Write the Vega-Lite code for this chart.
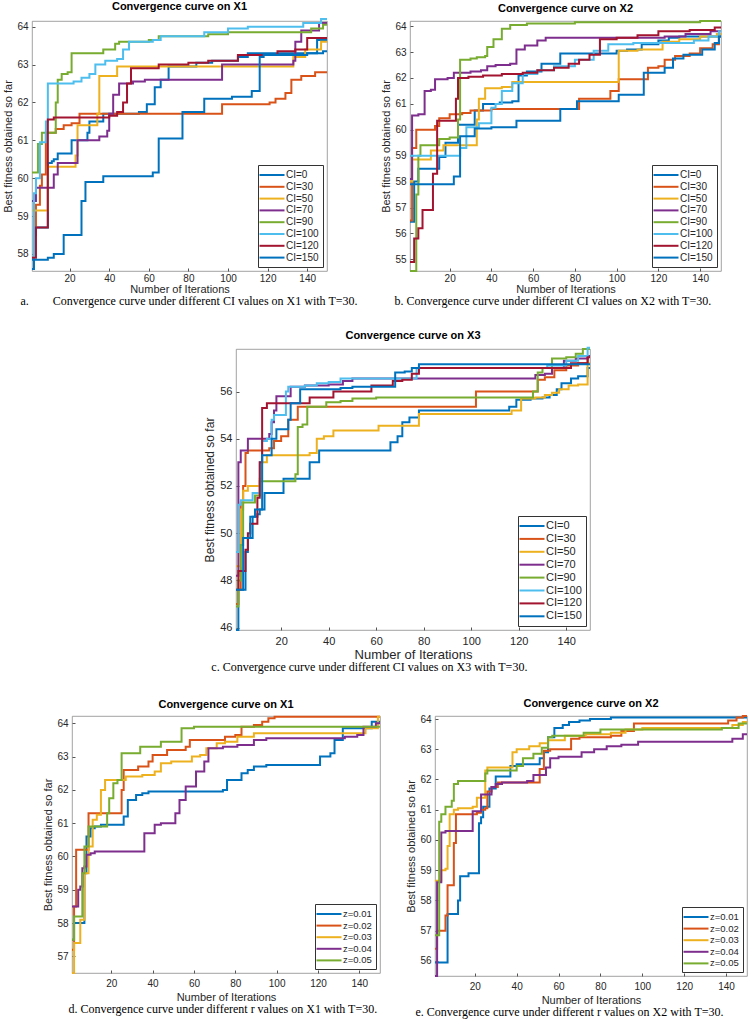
{
"$schema": "https://vega.github.io/schema/vega-lite/v6.json",
"background": "white",
"padding": {"left": 2, "top": 0, "right": 0, "bottom": 0},
"config": {
  "view": {"stroke": "#8c8c8c", "strokeWidth": 0.8},
  "axis": {"grid": false, "domain": false, "tickSize": -3, "tickColor": "#555", "labelFont": "Liberation Sans", "labelFontSize": 10, "labelColor": "#262626", "labelPadding": 8, "titleFont": "Liberation Sans", "titleFontSize": 11, "titleFontWeight": "normal", "titleColor": "#262626", "titlePadding": 3},
  "axisY": {"labelPadding": 7},
  "title": {"font": "Liberation Sans", "fontSize": 11, "fontWeight": "bold", "color": "#000", "offset": 3, "frame": "group"},
  "legend": {"orient": "bottom-right", "offset": 4, "fillColor": "white", "strokeColor": "#333", "padding": 4, "symbolType": "M-2.5,0H2.5", "symbolStrokeWidth": 2.5, "symbolSize": 100, "symbolOffset": 4, "labelFont": "Liberation Sans", "labelFontSize": 10, "labelColor": "#262626", "rowPadding": 0.8, "labelOffset": 8},
  "line": {"interpolate": "step-after", "strokeWidth": 2, "clip": true}
},
"datasets": {
"a": [
{"s":"CI=0","x":1,"y":57.6},{"s":"CI=0","x":2,"y":58.7},{"s":"CI=0","x":9,"y":60.4},{"s":"CI=0","x":11,"y":60.45},{"s":"CI=0","x":12,"y":60.5},{"s":"CI=0","x":14,"y":60.65},{"s":"CI=0","x":21,"y":61.0},{"s":"CI=0","x":29,"y":61.2},{"s":"CI=0","x":30,"y":61.5},{"s":"CI=0","x":37,"y":61.7},{"s":"CI=0","x":55,"y":61.75},{"s":"CI=0","x":59,"y":61.95},{"s":"CI=0","x":63,"y":62.4},{"s":"CI=0","x":66,"y":62.6},{"s":"CI=0","x":70,"y":62.95},{"s":"CI=0","x":84,"y":63.05},{"s":"CI=0","x":92,"y":63.1},{"s":"CI=0","x":105,"y":63.2},{"s":"CI=0","x":110,"y":63.3},{"s":"CI=0","x":145,"y":63.65},{"s":"CI=0","x":150,"y":63.65},
{"s":"CI=30","x":1,"y":57.9},{"s":"CI=30","x":2,"y":58.5},{"s":"CI=30","x":3,"y":59.3},{"s":"CI=30","x":5,"y":59.8},{"s":"CI=30","x":6,"y":60.1},{"s":"CI=30","x":8,"y":61.2},{"s":"CI=30","x":13,"y":61.3},{"s":"CI=30","x":17,"y":61.4},{"s":"CI=30","x":21,"y":61.45},{"s":"CI=30","x":25,"y":61.7},{"s":"CI=30","x":97,"y":61.95},{"s":"CI=30","x":121,"y":62.0},{"s":"CI=30","x":124,"y":62.1},{"s":"CI=30","x":129,"y":62.25},{"s":"CI=30","x":132,"y":62.6},{"s":"CI=30","x":137,"y":62.7},{"s":"CI=30","x":144,"y":62.8},{"s":"CI=30","x":150,"y":62.8},
{"s":"CI=50","x":1,"y":59.15},{"s":"CI=50","x":9,"y":60.3},{"s":"CI=50","x":23,"y":60.6},{"s":"CI=50","x":24,"y":61.4},{"s":"CI=50","x":34,"y":61.7},{"s":"CI=50","x":35,"y":62.7},{"s":"CI=50","x":44,"y":62.95},{"s":"CI=50","x":133,"y":63.2},{"s":"CI=50","x":139,"y":63.4},{"s":"CI=50","x":147,"y":63.6},{"s":"CI=50","x":150,"y":63.6},
{"s":"CI=70","x":1,"y":59.4},{"s":"CI=70","x":3,"y":59.75},{"s":"CI=70","x":12,"y":60.1},{"s":"CI=70","x":14,"y":60.4},{"s":"CI=70","x":24,"y":61.0},{"s":"CI=70","x":35,"y":61.1},{"s":"CI=70","x":39,"y":61.25},{"s":"CI=70","x":40,"y":61.7},{"s":"CI=70","x":42,"y":62.2},{"s":"CI=70","x":45,"y":62.5},{"s":"CI=70","x":52,"y":62.55},{"s":"CI=70","x":58,"y":62.6},{"s":"CI=70","x":97,"y":63.0},{"s":"CI=70","x":133,"y":63.1},{"s":"CI=70","x":134,"y":63.6},{"s":"CI=70","x":137,"y":63.9},{"s":"CI=70","x":146,"y":64.1},{"s":"CI=70","x":150,"y":64.1},
{"s":"CI=90","x":1,"y":60.15},{"s":"CI=90","x":4,"y":60.9},{"s":"CI=90","x":6,"y":61.2},{"s":"CI=90","x":13,"y":62.0},{"s":"CI=90","x":14,"y":62.6},{"s":"CI=90","x":16,"y":62.75},{"s":"CI=90","x":19,"y":62.8},{"s":"CI=90","x":21,"y":63.3},{"s":"CI=90","x":37,"y":63.4},{"s":"CI=90","x":43,"y":63.55},{"s":"CI=90","x":45,"y":63.6},{"s":"CI=90","x":60,"y":63.65},{"s":"CI=90","x":65,"y":63.75},{"s":"CI=90","x":90,"y":63.8},{"s":"CI=90","x":100,"y":63.85},{"s":"CI=90","x":142,"y":63.95},{"s":"CI=90","x":148,"y":64.05},{"s":"CI=90","x":150,"y":64.05},
{"s":"CI=100","x":1,"y":57.9},{"s":"CI=100","x":2,"y":59.6},{"s":"CI=100","x":3,"y":60.0},{"s":"CI=100","x":5,"y":60.95},{"s":"CI=100","x":8,"y":61.5},{"s":"CI=100","x":9,"y":62.5},{"s":"CI=100","x":22,"y":62.55},{"s":"CI=100","x":26,"y":62.65},{"s":"CI=100","x":30,"y":62.75},{"s":"CI=100","x":33,"y":63.0},{"s":"CI=100","x":38,"y":63.1},{"s":"CI=100","x":44,"y":63.15},{"s":"CI=100","x":47,"y":63.4},{"s":"CI=100","x":50,"y":63.6},{"s":"CI=100","x":62,"y":63.65},{"s":"CI=100","x":66,"y":63.75},{"s":"CI=100","x":88,"y":63.85},{"s":"CI=100","x":100,"y":63.95},{"s":"CI=100","x":110,"y":64.0},{"s":"CI=100","x":138,"y":64.1},{"s":"CI=100","x":147,"y":64.2},{"s":"CI=100","x":150,"y":64.2},
{"s":"CI=120","x":1,"y":57.9},{"s":"CI=120","x":3,"y":58.7},{"s":"CI=120","x":9,"y":61.55},{"s":"CI=120","x":12,"y":61.6},{"s":"CI=120","x":40,"y":61.65},{"s":"CI=120","x":44,"y":61.75},{"s":"CI=120","x":47,"y":62.0},{"s":"CI=120","x":49,"y":62.5},{"s":"CI=120","x":51,"y":62.9},{"s":"CI=120","x":65,"y":63.0},{"s":"CI=120","x":80,"y":63.05},{"s":"CI=120","x":90,"y":63.1},{"s":"CI=120","x":105,"y":63.25},{"s":"CI=120","x":125,"y":63.35},{"s":"CI=120","x":134,"y":63.4},{"s":"CI=120","x":140,"y":63.7},{"s":"CI=120","x":150,"y":63.7},
{"s":"CI=150","x":1,"y":57.85},{"s":"CI=150","x":9,"y":57.9},{"s":"CI=150","x":12,"y":58.0},{"s":"CI=150","x":17,"y":58.5},{"s":"CI=150","x":26,"y":59.4},{"s":"CI=150","x":28,"y":59.9},{"s":"CI=150","x":37,"y":60.05},{"s":"CI=150","x":62,"y":60.15},{"s":"CI=150","x":65,"y":61.05},{"s":"CI=150","x":77,"y":61.75},{"s":"CI=150","x":88,"y":62.1},{"s":"CI=150","x":102,"y":62.15},{"s":"CI=150","x":112,"y":62.3},{"s":"CI=150","x":116,"y":63.2},{"s":"CI=150","x":118,"y":63.25},{"s":"CI=150","x":140,"y":63.3},{"s":"CI=150","x":148,"y":63.35},{"s":"CI=150","x":150,"y":63.35}
],
"b": [
{"s":"CI=0","x":1,"y":56.45},{"s":"CI=0","x":3,"y":58.0},{"s":"CI=0","x":5,"y":58.5},{"s":"CI=0","x":15,"y":58.95},{"s":"CI=0","x":18,"y":59.5},{"s":"CI=0","x":24,"y":60.2},{"s":"CI=0","x":32,"y":60.75},{"s":"CI=0","x":36,"y":61.0},{"s":"CI=0","x":44,"y":61.05},{"s":"CI=0","x":50,"y":61.1},{"s":"CI=0","x":53,"y":62.1},{"s":"CI=0","x":57,"y":62.25},{"s":"CI=0","x":64,"y":62.55},{"s":"CI=0","x":73,"y":62.95},{"s":"CI=0","x":100,"y":63.05},{"s":"CI=0","x":105,"y":63.1},{"s":"CI=0","x":112,"y":63.3},{"s":"CI=0","x":120,"y":63.45},{"s":"CI=0","x":125,"y":63.55},{"s":"CI=0","x":130,"y":63.6},{"s":"CI=0","x":150,"y":63.6},
{"s":"CI=30","x":1,"y":56.5},{"s":"CI=30","x":2,"y":59.3},{"s":"CI=30","x":4,"y":60.0},{"s":"CI=30","x":13,"y":60.15},{"s":"CI=30","x":15,"y":60.45},{"s":"CI=30","x":20,"y":60.6},{"s":"CI=30","x":26,"y":60.65},{"s":"CI=30","x":30,"y":60.75},{"s":"CI=30","x":40,"y":60.8},{"s":"CI=30","x":82,"y":61.2},{"s":"CI=30","x":97,"y":61.5},{"s":"CI=30","x":101,"y":61.95},{"s":"CI=30","x":115,"y":62.4},{"s":"CI=30","x":120,"y":62.45},{"s":"CI=30","x":123,"y":62.7},{"s":"CI=30","x":128,"y":62.85},{"s":"CI=30","x":135,"y":62.95},{"s":"CI=30","x":140,"y":63.15},{"s":"CI=30","x":146,"y":63.3},{"s":"CI=30","x":149,"y":63.6},{"s":"CI=30","x":150,"y":63.6},
{"s":"CI=50","x":1,"y":58.0},{"s":"CI=50","x":2,"y":58.85},{"s":"CI=50","x":11,"y":59.2},{"s":"CI=50","x":17,"y":59.4},{"s":"CI=50","x":33,"y":60.4},{"s":"CI=50","x":34,"y":61.2},{"s":"CI=50","x":37,"y":61.6},{"s":"CI=50","x":45,"y":61.65},{"s":"CI=50","x":50,"y":61.85},{"s":"CI=50","x":101,"y":63.05},{"s":"CI=50","x":110,"y":63.1},{"s":"CI=50","x":122,"y":63.4},{"s":"CI=50","x":130,"y":63.5},{"s":"CI=50","x":140,"y":63.6},{"s":"CI=50","x":148,"y":63.7},{"s":"CI=50","x":150,"y":63.7},
{"s":"CI=70","x":1,"y":58.1},{"s":"CI=70","x":2,"y":60.55},{"s":"CI=70","x":5,"y":60.6},{"s":"CI=70","x":8,"y":61.5},{"s":"CI=70","x":11,"y":61.55},{"s":"CI=70","x":13,"y":61.95},{"s":"CI=70","x":19,"y":62.0},{"s":"CI=70","x":22,"y":62.2},{"s":"CI=70","x":30,"y":62.25},{"s":"CI=70","x":35,"y":62.3},{"s":"CI=70","x":38,"y":62.45},{"s":"CI=70","x":42,"y":62.5},{"s":"CI=70","x":49,"y":62.55},{"s":"CI=70","x":52,"y":63.1},{"s":"CI=70","x":56,"y":63.25},{"s":"CI=70","x":62,"y":63.45},{"s":"CI=70","x":66,"y":63.55},{"s":"CI=70","x":123,"y":63.6},{"s":"CI=70","x":133,"y":63.7},{"s":"CI=70","x":145,"y":63.8},{"s":"CI=70","x":150,"y":63.8},
{"s":"CI=90","x":1,"y":54.55},{"s":"CI=90","x":4,"y":57.5},{"s":"CI=90","x":5,"y":59.0},{"s":"CI=90","x":6,"y":59.4},{"s":"CI=90","x":15,"y":59.65},{"s":"CI=90","x":20,"y":59.7},{"s":"CI=90","x":24,"y":60.4},{"s":"CI=90","x":25,"y":62.7},{"s":"CI=90","x":30,"y":62.75},{"s":"CI=90","x":33,"y":62.8},{"s":"CI=90","x":37,"y":62.85},{"s":"CI=90","x":38,"y":63.2},{"s":"CI=90","x":41,"y":63.5},{"s":"CI=90","x":45,"y":63.9},{"s":"CI=90","x":49,"y":64.05},{"s":"CI=90","x":57,"y":64.1},{"s":"CI=90","x":80,"y":64.15},{"s":"CI=90","x":140,"y":64.2},{"s":"CI=90","x":150,"y":64.2},
{"s":"CI=100","x":1,"y":59.0},{"s":"CI=100","x":25,"y":59.3},{"s":"CI=100","x":28,"y":60.1},{"s":"CI=100","x":34,"y":60.25},{"s":"CI=100","x":40,"y":60.85},{"s":"CI=100","x":42,"y":61.0},{"s":"CI=100","x":45,"y":61.5},{"s":"CI=100","x":50,"y":61.8},{"s":"CI=100","x":55,"y":62.15},{"s":"CI=100","x":62,"y":62.3},{"s":"CI=100","x":70,"y":62.45},{"s":"CI=100","x":80,"y":62.7},{"s":"CI=100","x":89,"y":63.05},{"s":"CI=100","x":96,"y":63.3},{"s":"CI=100","x":108,"y":63.35},{"s":"CI=100","x":137,"y":63.45},{"s":"CI=100","x":144,"y":63.6},{"s":"CI=100","x":149,"y":63.8},{"s":"CI=100","x":150,"y":63.8},
{"s":"CI=120","x":1,"y":54.9},{"s":"CI=120","x":3,"y":55.8},{"s":"CI=120","x":5,"y":56.2},{"s":"CI=120","x":7,"y":56.9},{"s":"CI=120","x":12,"y":58.3},{"s":"CI=120","x":14,"y":60.35},{"s":"CI=120","x":23,"y":61.2},{"s":"CI=120","x":24,"y":62.0},{"s":"CI=120","x":29,"y":62.05},{"s":"CI=120","x":36,"y":62.1},{"s":"CI=120","x":45,"y":62.15},{"s":"CI=120","x":55,"y":62.2},{"s":"CI=120","x":62,"y":62.3},{"s":"CI=120","x":70,"y":62.4},{"s":"CI=120","x":77,"y":62.55},{"s":"CI=120","x":82,"y":62.7},{"s":"CI=120","x":87,"y":62.9},{"s":"CI=120","x":92,"y":63.5},{"s":"CI=120","x":100,"y":63.55},{"s":"CI=120","x":110,"y":63.65},{"s":"CI=120","x":120,"y":63.8},{"s":"CI=120","x":135,"y":63.85},{"s":"CI=120","x":147,"y":63.95},{"s":"CI=120","x":150,"y":63.95},
{"s":"CI=150","x":1,"y":57.9},{"s":"CI=150","x":22,"y":58.2},{"s":"CI=150","x":25,"y":59.75},{"s":"CI=150","x":32,"y":60.05},{"s":"CI=150","x":40,"y":60.1},{"s":"CI=150","x":52,"y":60.35},{"s":"CI=150","x":73,"y":60.8},{"s":"CI=150","x":81,"y":61.1},{"s":"CI=150","x":101,"y":61.35},{"s":"CI=150","x":113,"y":62.2},{"s":"CI=150","x":123,"y":62.4},{"s":"CI=150","x":127,"y":62.75},{"s":"CI=150","x":132,"y":62.9},{"s":"CI=150","x":141,"y":63.1},{"s":"CI=150","x":147,"y":63.35},{"s":"CI=150","x":149,"y":63.6},{"s":"CI=150","x":150,"y":63.6}
],
"c": [
{"s":"CI=0","x":1,"y":45.9},{"s":"CI=0","x":2,"y":47.6},{"s":"CI=0","x":5,"y":49.2},{"s":"CI=0","x":6,"y":49.8},{"s":"CI=0","x":8,"y":50.7},{"s":"CI=0","x":10,"y":50.8},{"s":"CI=0","x":11,"y":51.0},{"s":"CI=0","x":13,"y":51.7},{"s":"CI=0","x":21,"y":52.3},{"s":"CI=0","x":32,"y":53.0},{"s":"CI=0","x":36,"y":53.5},{"s":"CI=0","x":66,"y":53.85},{"s":"CI=0","x":69,"y":54.1},{"s":"CI=0","x":71,"y":54.7},{"s":"CI=0","x":74,"y":54.9},{"s":"CI=0","x":78,"y":55.2},{"s":"CI=0","x":116,"y":55.35},{"s":"CI=0","x":119,"y":55.65},{"s":"CI=0","x":125,"y":55.7},{"s":"CI=0","x":130,"y":55.75},{"s":"CI=0","x":133,"y":55.85},{"s":"CI=0","x":136,"y":56.1},{"s":"CI=0","x":138,"y":56.35},{"s":"CI=0","x":142,"y":56.55},{"s":"CI=0","x":145,"y":56.65},{"s":"CI=0","x":149,"y":57.0},{"s":"CI=0","x":150,"y":57.0},
{"s":"CI=30","x":1,"y":47.0},{"s":"CI=30","x":2,"y":47.6},{"s":"CI=30","x":3,"y":51.3},{"s":"CI=30","x":4,"y":52.0},{"s":"CI=30","x":5,"y":53.4},{"s":"CI=30","x":6,"y":53.5},{"s":"CI=30","x":15,"y":53.6},{"s":"CI=30","x":17,"y":53.9},{"s":"CI=30","x":20,"y":54.1},{"s":"CI=30","x":23,"y":54.8},{"s":"CI=30","x":27,"y":55.35},{"s":"CI=30","x":102,"y":56.0},{"s":"CI=30","x":128,"y":56.5},{"s":"CI=30","x":131,"y":56.6},{"s":"CI=30","x":135,"y":56.9},{"s":"CI=30","x":140,"y":57.1},{"s":"CI=30","x":145,"y":57.2},{"s":"CI=30","x":149,"y":57.5},{"s":"CI=30","x":150,"y":57.5},
{"s":"CI=50","x":1,"y":48.6},{"s":"CI=50","x":3,"y":51.0},{"s":"CI=50","x":4,"y":51.8},{"s":"CI=50","x":6,"y":52.0},{"s":"CI=50","x":11,"y":52.3},{"s":"CI=50","x":12,"y":53.0},{"s":"CI=50","x":14,"y":53.3},{"s":"CI=50","x":32,"y":53.4},{"s":"CI=50","x":35,"y":54.0},{"s":"CI=50","x":38,"y":54.1},{"s":"CI=50","x":42,"y":54.35},{"s":"CI=50","x":61,"y":54.55},{"s":"CI=50","x":78,"y":55.05},{"s":"CI=50","x":117,"y":55.2},{"s":"CI=50","x":121,"y":55.7},{"s":"CI=50","x":127,"y":55.75},{"s":"CI=50","x":131,"y":55.85},{"s":"CI=50","x":134,"y":55.95},{"s":"CI=50","x":137,"y":56.1},{"s":"CI=50","x":141,"y":56.25},{"s":"CI=50","x":145,"y":56.3},{"s":"CI=50","x":149,"y":57.2},{"s":"CI=50","x":150,"y":57.2},
{"s":"CI=70","x":1,"y":48.2},{"s":"CI=70","x":2,"y":53.0},{"s":"CI=70","x":3,"y":53.5},{"s":"CI=70","x":6,"y":54.0},{"s":"CI=70","x":15,"y":54.2},{"s":"CI=70","x":16,"y":54.7},{"s":"CI=70","x":17,"y":55.2},{"s":"CI=70","x":18,"y":55.8},{"s":"CI=70","x":24,"y":56.2},{"s":"CI=70","x":30,"y":56.25},{"s":"CI=70","x":40,"y":56.3},{"s":"CI=70","x":46,"y":56.45},{"s":"CI=70","x":50,"y":56.55},{"s":"CI=70","x":127,"y":56.7},{"s":"CI=70","x":131,"y":56.75},{"s":"CI=70","x":134,"y":57.0},{"s":"CI=70","x":139,"y":57.3},{"s":"CI=70","x":144,"y":57.4},{"s":"CI=70","x":149,"y":57.5},{"s":"CI=70","x":150,"y":57.5},
{"s":"CI=90","x":1,"y":46.9},{"s":"CI=90","x":2,"y":48.0},{"s":"CI=90","x":3,"y":49.5},{"s":"CI=90","x":4,"y":51.3},{"s":"CI=90","x":9,"y":51.6},{"s":"CI=90","x":11,"y":52.2},{"s":"CI=90","x":26,"y":52.5},{"s":"CI=90","x":27,"y":54.5},{"s":"CI=90","x":29,"y":54.6},{"s":"CI=90","x":31,"y":55.35},{"s":"CI=90","x":39,"y":55.55},{"s":"CI=90","x":45,"y":55.6},{"s":"CI=90","x":50,"y":55.7},{"s":"CI=90","x":60,"y":55.75},{"s":"CI=90","x":126,"y":56.0},{"s":"CI=90","x":128,"y":56.8},{"s":"CI=90","x":130,"y":57.0},{"s":"CI=90","x":134,"y":57.4},{"s":"CI=90","x":140,"y":57.45},{"s":"CI=90","x":144,"y":57.6},{"s":"CI=90","x":147,"y":57.8},{"s":"CI=90","x":150,"y":57.8},
{"s":"CI=100","x":1,"y":49.2},{"s":"CI=100","x":2,"y":51.2},{"s":"CI=100","x":3,"y":51.4},{"s":"CI=100","x":8,"y":51.7},{"s":"CI=100","x":11,"y":53.0},{"s":"CI=100","x":12,"y":53.9},{"s":"CI=100","x":14,"y":54.0},{"s":"CI=100","x":16,"y":54.8},{"s":"CI=100","x":17,"y":55.0},{"s":"CI=100","x":22,"y":56.0},{"s":"CI=100","x":23,"y":56.2},{"s":"CI=100","x":30,"y":56.25},{"s":"CI=100","x":35,"y":56.35},{"s":"CI=100","x":40,"y":56.4},{"s":"CI=100","x":45,"y":56.55},{"s":"CI=100","x":77,"y":57.0},{"s":"CI=100","x":132,"y":57.1},{"s":"CI=100","x":140,"y":57.3},{"s":"CI=100","x":145,"y":57.5},{"s":"CI=100","x":149,"y":57.85},{"s":"CI=100","x":150,"y":57.85},
{"s":"CI=120","x":1,"y":47.6},{"s":"CI=120","x":2,"y":48.4},{"s":"CI=120","x":5,"y":49.3},{"s":"CI=120","x":6,"y":50.0},{"s":"CI=120","x":7,"y":50.4},{"s":"CI=120","x":10,"y":51.5},{"s":"CI=120","x":11,"y":53.0},{"s":"CI=120","x":12,"y":55.3},{"s":"CI=120","x":14,"y":55.5},{"s":"CI=120","x":32,"y":55.75},{"s":"CI=120","x":42,"y":56.0},{"s":"CI=120","x":58,"y":56.25},{"s":"CI=120","x":67,"y":56.45},{"s":"CI=120","x":71,"y":56.5},{"s":"CI=120","x":75,"y":56.75},{"s":"CI=120","x":78,"y":57.0},{"s":"CI=120","x":142,"y":57.2},{"s":"CI=120","x":149,"y":57.45},{"s":"CI=120","x":150,"y":57.45},
{"s":"CI=150","x":1,"y":47.6},{"s":"CI=150","x":4,"y":49.8},{"s":"CI=150","x":7,"y":50.7},{"s":"CI=150","x":9,"y":51.0},{"s":"CI=150","x":12,"y":53.3},{"s":"CI=150","x":16,"y":54.0},{"s":"CI=150","x":18,"y":54.4},{"s":"CI=150","x":23,"y":54.8},{"s":"CI=150","x":24,"y":55.5},{"s":"CI=150","x":28,"y":56.1},{"s":"CI=150","x":45,"y":56.15},{"s":"CI=150","x":50,"y":56.2},{"s":"CI=150","x":68,"y":56.8},{"s":"CI=150","x":72,"y":56.85},{"s":"CI=150","x":75,"y":57.0},{"s":"CI=150","x":78,"y":57.15},{"s":"CI=150","x":150,"y":57.15}
],
"d": [
{"s":"z=0.01","x":1,"y":57.5},{"s":"z=0.01","x":2,"y":58.0},{"s":"z=0.01","x":7,"y":59.5},{"s":"z=0.01","x":8,"y":60.6},{"s":"z=0.01","x":10,"y":60.85},{"s":"z=0.01","x":12,"y":60.9},{"s":"z=0.01","x":15,"y":60.95},{"s":"z=0.01","x":26,"y":61.2},{"s":"z=0.01","x":28,"y":61.7},{"s":"z=0.01","x":32,"y":61.85},{"s":"z=0.01","x":35,"y":61.9},{"s":"z=0.01","x":38,"y":61.95},{"s":"z=0.01","x":74,"y":62.0},{"s":"z=0.01","x":76,"y":62.3},{"s":"z=0.01","x":83,"y":62.5},{"s":"z=0.01","x":86,"y":62.6},{"s":"z=0.01","x":89,"y":62.7},{"s":"z=0.01","x":95,"y":62.75},{"s":"z=0.01","x":121,"y":63.0},{"s":"z=0.01","x":126,"y":63.1},{"s":"z=0.01","x":128,"y":63.5},{"s":"z=0.01","x":132,"y":63.85},{"s":"z=0.01","x":146,"y":64.05},{"s":"z=0.01","x":150,"y":64.05},
{"s":"z=0.02","x":1,"y":57.2},{"s":"z=0.02","x":2,"y":58.5},{"s":"z=0.02","x":3,"y":60.2},{"s":"z=0.02","x":9,"y":61.3},{"s":"z=0.02","x":25,"y":62.0},{"s":"z=0.02","x":26,"y":62.6},{"s":"z=0.02","x":33,"y":62.7},{"s":"z=0.02","x":38,"y":62.85},{"s":"z=0.02","x":40,"y":63.05},{"s":"z=0.02","x":47,"y":63.2},{"s":"z=0.02","x":56,"y":63.3},{"s":"z=0.02","x":58,"y":63.5},{"s":"z=0.02","x":75,"y":63.6},{"s":"z=0.02","x":80,"y":63.65},{"s":"z=0.02","x":83,"y":63.9},{"s":"z=0.02","x":89,"y":63.95},{"s":"z=0.02","x":93,"y":64.05},{"s":"z=0.02","x":96,"y":64.15},{"s":"z=0.02","x":99,"y":64.2},{"s":"z=0.02","x":150,"y":64.2},
{"s":"z=0.03","x":1,"y":56.5},{"s":"z=0.03","x":2,"y":57.4},{"s":"z=0.03","x":5,"y":58.1},{"s":"z=0.03","x":7,"y":59.5},{"s":"z=0.03","x":9,"y":60.3},{"s":"z=0.03","x":11,"y":61.1},{"s":"z=0.03","x":13,"y":61.25},{"s":"z=0.03","x":15,"y":62.0},{"s":"z=0.03","x":17,"y":62.3},{"s":"z=0.03","x":27,"y":62.4},{"s":"z=0.03","x":35,"y":62.45},{"s":"z=0.03","x":41,"y":62.55},{"s":"z=0.03","x":44,"y":62.8},{"s":"z=0.03","x":49,"y":62.85},{"s":"z=0.03","x":59,"y":63.0},{"s":"z=0.03","x":63,"y":63.05},{"s":"z=0.03","x":66,"y":63.25},{"s":"z=0.03","x":71,"y":63.4},{"s":"z=0.03","x":75,"y":63.45},{"s":"z=0.03","x":81,"y":63.6},{"s":"z=0.03","x":89,"y":63.7},{"s":"z=0.03","x":143,"y":63.85},{"s":"z=0.03","x":149,"y":64.2},{"s":"z=0.03","x":150,"y":64.2},
{"s":"z=0.04","x":1,"y":58.5},{"s":"z=0.04","x":4,"y":59.0},{"s":"z=0.04","x":5,"y":59.1},{"s":"z=0.04","x":6,"y":59.65},{"s":"z=0.04","x":7,"y":59.7},{"s":"z=0.04","x":8,"y":60.05},{"s":"z=0.04","x":10,"y":60.1},{"s":"z=0.04","x":12,"y":60.15},{"s":"z=0.04","x":36,"y":60.7},{"s":"z=0.04","x":41,"y":60.95},{"s":"z=0.04","x":44,"y":61.0},{"s":"z=0.04","x":51,"y":61.3},{"s":"z=0.04","x":53,"y":61.7},{"s":"z=0.04","x":56,"y":62.1},{"s":"z=0.04","x":61,"y":62.55},{"s":"z=0.04","x":65,"y":62.85},{"s":"z=0.04","x":67,"y":63.25},{"s":"z=0.04","x":74,"y":63.3},{"s":"z=0.04","x":81,"y":63.35},{"s":"z=0.04","x":89,"y":63.5},{"s":"z=0.04","x":95,"y":63.55},{"s":"z=0.04","x":133,"y":63.6},{"s":"z=0.04","x":139,"y":63.65},{"s":"z=0.04","x":142,"y":63.9},{"s":"z=0.04","x":148,"y":64.0},{"s":"z=0.04","x":150,"y":64.0},
{"s":"z=0.05","x":1,"y":57.5},{"s":"z=0.05","x":2,"y":58.2},{"s":"z=0.05","x":6,"y":59.5},{"s":"z=0.05","x":7,"y":60.3},{"s":"z=0.05","x":9,"y":60.9},{"s":"z=0.05","x":18,"y":61.3},{"s":"z=0.05","x":19,"y":61.75},{"s":"z=0.05","x":21,"y":62.2},{"s":"z=0.05","x":23,"y":62.3},{"s":"z=0.05","x":25,"y":63.1},{"s":"z=0.05","x":34,"y":63.3},{"s":"z=0.05","x":44,"y":63.45},{"s":"z=0.05","x":54,"y":63.85},{"s":"z=0.05","x":60,"y":63.9},{"s":"z=0.05","x":150,"y":63.9}
],
"e": [
{"s":"z=0.01","x":1,"y":55.95},{"s":"z=0.01","x":7,"y":57.55},{"s":"z=0.01","x":12,"y":58.0},{"s":"z=0.01","x":13,"y":58.8},{"s":"z=0.01","x":17,"y":58.9},{"s":"z=0.01","x":22,"y":60.55},{"s":"z=0.01","x":23,"y":60.75},{"s":"z=0.01","x":24,"y":61.1},{"s":"z=0.01","x":27,"y":61.7},{"s":"z=0.01","x":30,"y":62.1},{"s":"z=0.01","x":37,"y":62.45},{"s":"z=0.01","x":40,"y":62.5},{"s":"z=0.01","x":51,"y":62.7},{"s":"z=0.01","x":53,"y":62.9},{"s":"z=0.01","x":55,"y":63.4},{"s":"z=0.01","x":58,"y":63.7},{"s":"z=0.01","x":62,"y":63.8},{"s":"z=0.01","x":65,"y":63.9},{"s":"z=0.01","x":70,"y":63.95},{"s":"z=0.01","x":75,"y":64.0},{"s":"z=0.01","x":85,"y":64.05},{"s":"z=0.01","x":150,"y":64.05},
{"s":"z=0.02","x":1,"y":56.4},{"s":"z=0.02","x":2,"y":57.0},{"s":"z=0.02","x":6,"y":57.5},{"s":"z=0.02","x":7,"y":58.5},{"s":"z=0.02","x":10,"y":59.9},{"s":"z=0.02","x":11,"y":60.85},{"s":"z=0.02","x":21,"y":60.9},{"s":"z=0.02","x":23,"y":61.0},{"s":"z=0.02","x":25,"y":61.05},{"s":"z=0.02","x":26,"y":61.6},{"s":"z=0.02","x":28,"y":61.75},{"s":"z=0.02","x":31,"y":61.9},{"s":"z=0.02","x":51,"y":62.35},{"s":"z=0.02","x":53,"y":62.95},{"s":"z=0.02","x":56,"y":63.0},{"s":"z=0.02","x":66,"y":63.35},{"s":"z=0.02","x":70,"y":63.4},{"s":"z=0.02","x":85,"y":63.45},{"s":"z=0.02","x":90,"y":63.6},{"s":"z=0.02","x":96,"y":63.85},{"s":"z=0.02","x":141,"y":63.95},{"s":"z=0.02","x":145,"y":64.05},{"s":"z=0.02","x":148,"y":64.1},{"s":"z=0.02","x":150,"y":64.1},
{"s":"z=0.03","x":1,"y":58.65},{"s":"z=0.03","x":4,"y":59.0},{"s":"z=0.03","x":6,"y":59.05},{"s":"z=0.03","x":7,"y":59.8},{"s":"z=0.03","x":8,"y":60.85},{"s":"z=0.03","x":10,"y":61.0},{"s":"z=0.03","x":12,"y":61.05},{"s":"z=0.03","x":19,"y":61.1},{"s":"z=0.03","x":21,"y":61.4},{"s":"z=0.03","x":25,"y":62.3},{"s":"z=0.03","x":26,"y":62.4},{"s":"z=0.03","x":38,"y":62.9},{"s":"z=0.03","x":40,"y":63.0},{"s":"z=0.03","x":46,"y":63.1},{"s":"z=0.03","x":51,"y":63.2},{"s":"z=0.03","x":55,"y":63.3},{"s":"z=0.03","x":63,"y":63.45},{"s":"z=0.03","x":73,"y":63.5},{"s":"z=0.03","x":85,"y":63.55},{"s":"z=0.03","x":92,"y":63.65},{"s":"z=0.03","x":100,"y":63.7},{"s":"z=0.03","x":143,"y":63.8},{"s":"z=0.03","x":148,"y":63.9},{"s":"z=0.03","x":150,"y":63.9},
{"s":"z=0.04","x":1,"y":55.5},{"s":"z=0.04","x":2,"y":58.6},{"s":"z=0.04","x":4,"y":60.25},{"s":"z=0.04","x":6,"y":60.3},{"s":"z=0.04","x":19,"y":60.95},{"s":"z=0.04","x":23,"y":61.5},{"s":"z=0.04","x":28,"y":61.75},{"s":"z=0.04","x":30,"y":61.85},{"s":"z=0.04","x":33,"y":61.9},{"s":"z=0.04","x":45,"y":61.95},{"s":"z=0.04","x":48,"y":62.15},{"s":"z=0.04","x":54,"y":62.4},{"s":"z=0.04","x":56,"y":62.7},{"s":"z=0.04","x":60,"y":62.75},{"s":"z=0.04","x":71,"y":62.9},{"s":"z=0.04","x":77,"y":63.0},{"s":"z=0.04","x":83,"y":63.1},{"s":"z=0.04","x":90,"y":63.15},{"s":"z=0.04","x":98,"y":63.25},{"s":"z=0.04","x":143,"y":63.35},{"s":"z=0.04","x":148,"y":63.5},{"s":"z=0.04","x":150,"y":63.5},
{"s":"z=0.05","x":1,"y":56.85},{"s":"z=0.05","x":3,"y":60.6},{"s":"z=0.05","x":4,"y":60.85},{"s":"z=0.05","x":6,"y":61.1},{"s":"z=0.05","x":9,"y":61.3},{"s":"z=0.05","x":10,"y":61.85},{"s":"z=0.05","x":12,"y":61.95},{"s":"z=0.05","x":25,"y":62.2},{"s":"z=0.05","x":26,"y":62.3},{"s":"z=0.05","x":40,"y":62.45},{"s":"z=0.05","x":43,"y":62.7},{"s":"z=0.05","x":48,"y":62.85},{"s":"z=0.05","x":52,"y":63.05},{"s":"z=0.05","x":55,"y":63.4},{"s":"z=0.05","x":57,"y":63.45},{"s":"z=0.05","x":72,"y":63.55},{"s":"z=0.05","x":80,"y":63.65},{"s":"z=0.05","x":138,"y":63.7},{"s":"z=0.05","x":146,"y":63.85},{"s":"z=0.05","x":150,"y":63.85}
],
"blank": [{"k": 0}]
},
"resolve": {"scale": {"color": "independent", "x": "independent", "y": "independent"}, "legend": {"color": "independent"}},
"spacing": 23,
"vconcat": [
 {"vconcat": [
 {"hconcat": [
  {"title": {"text": "a.\u00a0\u00a0\u00a0\u00a0\u00a0\u00a0\u00a0 Convergence curve under different CI values on X1 with T=30.", "orient": "bottom", "font": "Liberation Serif", "fontSize": 12, "fontWeight": "normal", "offset": 2, "frame": "bounds", "dx": 18},
   "resolve": {"scale": {"color": "independent"}, "legend": {"color": "independent"}},
   "vconcat": [{
    "title": "Convergence curve on X1", "width": 295, "height": 250,
    "data": {"name": "a"}, "mark": {"type": "line"},
    "encoding": {
     "x": {"field": "x", "type": "quantitative", "scale": {"domain": [1, 150], "nice": false}, "axis": {"values": [20,40,60,80,100,120,140], "title": "Number of Iterations", "titlePadding": 0, "labelPadding": 5}},
     "y": {"field": "y", "type": "quantitative", "scale": {"domain": [57.55, 64.15], "nice": false, "zero": false}, "axis": {"values": [58,59,60,61,62,63,64], "title": "Best fitness obtained so far"}},
     "color": {"field": "s", "type": "nominal", "scale": {"domain": ["CI=0","CI=30","CI=50","CI=70","CI=90","CI=100","CI=120","CI=150"], "range": ["#0072BD","#D95319","#EDB120","#7E2F8E","#77AC30","#4DBEEE","#A2142F","#0072BD"]}, "legend": {"title": null, "orient": "bottom-right"}}
    }}]},
  {"title": {"text": "b. Convergence curve under different CI values on X2 with T=30.", "orient": "bottom", "font": "Liberation Serif", "fontSize": 12, "fontWeight": "normal", "offset": 2, "frame": "bounds", "dx": 14},
   "resolve": {"scale": {"color": "independent"}, "legend": {"color": "independent"}},
   "vconcat": [{
    "title": "Convergence curve on X2", "width": 311, "height": 250,
    "data": {"name": "b"}, "mark": {"type": "line"},
    "encoding": {
     "x": {"field": "x", "type": "quantitative", "scale": {"domain": [1, 150], "nice": false}, "axis": {"values": [20,40,60,80,100,120,140], "title": "Number of Iterations", "titlePadding": 0, "labelPadding": 5}},
     "y": {"field": "y", "type": "quantitative", "scale": {"domain": [54.55, 64.2], "nice": false, "zero": false}, "axis": {"values": [55,56,57,58,59,60,61,62,63,64], "title": "Best fitness obtained so far"}},
     "color": {"field": "s", "type": "nominal", "scale": {"domain": ["CI=0","CI=30","CI=50","CI=70","CI=90","CI=100","CI=120","CI=150"], "range": ["#0072BD","#D95319","#EDB120","#7E2F8E","#77AC30","#4DBEEE","#A2142F","#0072BD"]}, "legend": {"title": null, "orient": "bottom-right"}}
    }}]}
 ], "spacing": 22, "resolve": {"scale": {"color": "independent", "x": "independent", "y": "independent"}, "legend": {"color": "independent"}}},
 {"hconcat": [
  {"width": 171, "height": 10, "data": {"name": "blank"}, "mark": {"type": "text", "text": ""}, "view": {"stroke": null}},
  {"title": {"text": "c. Convergence curve under different CI values on X3 with T=30.", "orient": "bottom", "font": "Liberation Serif", "fontSize": 12, "fontWeight": "normal", "offset": 1, "frame": "bounds", "dx": 8},
  "resolve": {"scale": {"color": "independent"}, "legend": {"color": "independent"}},
  "vconcat": [{
   "title": "Convergence curve on X3", "width": 354, "height": 281,
   "data": {"name": "c"}, "mark": {"type": "line"},
   "encoding": {
    "x": {"field": "x", "type": "quantitative", "scale": {"domain": [1, 150], "nice": false}, "axis": {"values": [20,40,60,80,100,120,140], "title": "Number of Iterations", "titleFontSize": 13, "labelFontSize": 11, "titlePadding": 2}},
    "y": {"field": "y", "type": "quantitative", "scale": {"domain": [45.9, 57.8], "nice": false, "zero": false}, "axis": {"values": [46,48,50,52,54,56], "title": "Best fitness obtained so far", "titleFontSize": 12, "labelFontSize": 11}},
    "color": {"field": "s", "type": "nominal", "scale": {"domain": ["CI=0","CI=30","CI=50","CI=70","CI=90","CI=100","CI=120","CI=150"], "range": ["#0072BD","#D95319","#EDB120","#7E2F8E","#77AC30","#4DBEEE","#A2142F","#0072BD"]}, "legend": {"title": null, "orient": "bottom-right", "labelFontSize": 11, "rowPadding": 1.9}}
   }}]}
 ], "spacing": 0, "resolve": {"scale": {"color": "independent", "x": "independent", "y": "independent"}, "legend": {"color": "independent"}}}
 ], "spacing": 21, "resolve": {"scale": {"color": "independent", "x": "independent", "y": "independent"}, "legend": {"color": "independent"}}},
 {"hconcat": [
  {"width": 10, "height": 10, "data": {"name": "blank"}, "mark": {"type": "text", "text": ""}, "view": {"stroke": null}},
  {"hconcat": [
  {"title": {"text": "d. Convergence curve under different r values on X1 with T=30.", "orient": "bottom", "font": "Liberation Serif", "fontSize": 12, "fontWeight": "normal", "offset": 2, "frame": "bounds", "dx": 26},
   "resolve": {"scale": {"color": "independent"}, "legend": {"color": "independent"}},
   "vconcat": [{
    "title": "Convergence curve on X1", "width": 308, "height": 257,
    "data": {"name": "d"}, "mark": {"type": "line"},
    "encoding": {
     "x": {"field": "x", "type": "quantitative", "scale": {"domain": [1, 150], "nice": false}, "axis": {"values": [20,40,60,80,100,120,140], "title": "Number of Iterations"}},
     "y": {"field": "y", "type": "quantitative", "scale": {"domain": [56.5, 64.22], "nice": false, "zero": false}, "axis": {"values": [57,58,59,60,61,62,63,64], "title": "Best fitness obtained so far"}},
     "color": {"field": "s", "type": "nominal", "scale": {"domain": ["z=0.01","z=0.02","z=0.03","z=0.04","z=0.05"], "range": ["#0072BD","#D95319","#EDB120","#7E2F8E","#77AC30"]}, "legend": {"title": null, "orient": "bottom-right", "labelFontSize": 9.5, "rowPadding": 0.6}}
    }}]},
  {"title": {"text": "e. Convergence curve under different r values on X2 with T=30.", "orient": "bottom", "font": "Liberation Serif", "fontSize": 12, "fontWeight": "normal", "offset": 2, "frame": "bounds", "dx": 10},
   "resolve": {"scale": {"color": "independent"}, "legend": {"color": "independent"}},
   "vconcat": [{
    "title": "Convergence curve on X2", "width": 312, "height": 260,
    "data": {"name": "e"}, "mark": {"type": "line"},
    "encoding": {
     "x": {"field": "x", "type": "quantitative", "scale": {"domain": [1, 150], "nice": false}, "axis": {"values": [20,40,60,80,100,120,140], "title": "Number of Iterations"}},
     "y": {"field": "y", "type": "quantitative", "scale": {"domain": [55.5, 64.1], "nice": false, "zero": false}, "axis": {"values": [56,57,58,59,60,61,62,63,64], "title": "Best fitness obtained so far"}},
     "color": {"field": "s", "type": "nominal", "scale": {"domain": ["z=0.01","z=0.02","z=0.03","z=0.04","z=0.05"], "range": ["#0072BD","#D95319","#EDB120","#7E2F8E","#77AC30"]}, "legend": {"title": null, "orient": "bottom-right", "labelFontSize": 9.5, "rowPadding": 0.6}}
    }}]}
  ], "spacing": 20, "resolve": {"scale": {"color": "independent", "x": "independent", "y": "independent"}, "legend": {"color": "independent"}}}
 ], "spacing": 0, "resolve": {"scale": {"color": "independent", "x": "independent", "y": "independent"}, "legend": {"color": "independent"}}}
]
}
